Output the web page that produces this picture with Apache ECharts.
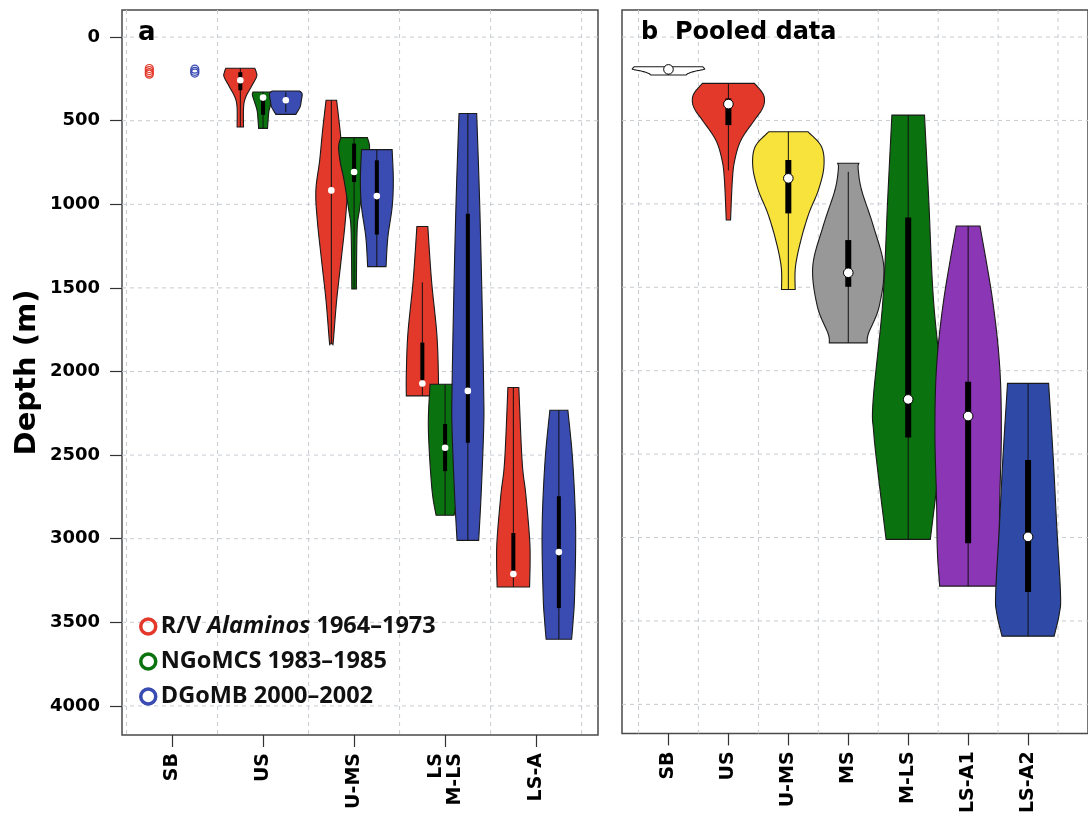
<!DOCTYPE html>
<html>
<head>
<meta charset="utf-8">
<script src="https://cdn.jsdelivr.net/npm/echarts@6/dist/echarts.min.js"></script>
<style>html,body{margin:0;padding:0;background:#fff}#c{width:1088px;height:816px}</style>
</head>
<body>
<div id="c"></div>
<script>
// ---------- categories / ticks ----------
const categoriesA = ['SB', 'US', 'U-MS', 'LS\nM-LS', 'LS-A'];
const categoriesB = ['SB', 'US', 'U-MS', 'MS', 'M-LS', 'LS-A1', 'LS-A2'];
const surveys = ['R/V Alaminos 1964–1973', 'NGoMCS 1983–1985', 'DGoMB 2000–2002'];
const depthTicks = [0, 500, 1000, 1500, 2000, 2500, 3000, 3500, 4000];
const catTicksA = [1, 2, 3, 4, 5];
const catTicksB = [1, 2, 3, 4, 5, 6, 7];
const gridXA = [0.5, 1.5, 2.5, 3.5, 4.5, 5.5];
const gridXB = [0.5, 1.5, 2.5, 3.5, 4.5, 5.5, 6.5, 7.5];

// ---------- panel a: SB raw points (depth, m) ----------
const sbRV = [188, 200, 212, 222];
const sbDGoMB = [192, 205, 215];

// ---------- violin profiles: [depth m, half-width in category units] ----------
// box stats: [whiskerLow, q1, median, q3, whiskerHigh]
const aUS_RV = [[186, .159], [210, .175], [238, .178], [298, .119], [358, .060], [418, .036], [538, .035]];
const aUS_RV_box = [186, 210, 258, 318, 538];
const aUS_NG = [[328, .110], [345, .118], [380, .099], [438, .066], [500, .055], [546, .049]];
const aUS_NG_box = [328, 350, 362, 465, 546];
const aUS_DG = [[322, .150], [340, .179], [380, .170], [418, .156], [462, .110]];
const aUS_DG_box = [330, 365, 378, 395, 450];
const aUMS_RV = [[378, .058], [558, .096], [737, .128], [917, .170], [1097, .154], [1337, .107], [1577, .058], [1817, .022], [1834, .016]];
const aUMS_RV_box = [378, 917, 917, 917, 1834];
const aUMS_NG = [[601, .146], [657, .170], [755, .150], [857, .110], [1037, .058], [1157, .033], [1507, .025]];
const aUMS_NG_box = [601, 637, 807, 867, 1507];
const aUMS_DG = [[673, .168], [857, .181], [1017, .168], [1197, .121], [1373, .101]];
const aUMS_DG_box = [673, 737, 951, 1181, 1373];
const aLS_RV = [[1133, .060], [1457, .101], [1775, .159], [2014, .176], [2146, .176]];
const aLS_RV_box = [1467, 1827, 2072, 2050, 2146];
const aMLS_NG = [[2076, .165], [2336, .184], [2696, .146], [2860, .099]];
const aMLS_NG_box = [2076, 2314, 2456, 2596, 2860];
const aMLS_DG = [[457, .097], [977, .129], [1577, .156], [2116, .174], [2336, .174], [2735, .146], [3010, .119]];
const aMLS_DG_box = [457, 1057, 2116, 2426, 3010];
const aLSA_RV = [[2096, .060], [2536, .096], [2736, .137], [2996, .178], [3135, .184], [3289, .178]];
const aLSA_RV_box = [2096, 2966, 3211, 3190, 3289];
const aLSA_DG = [[2232, .099], [2536, .152], [2936, .184], [3335, .173], [3495, .156], [3601, .140]];
const aLSA_DG_box = [2232, 2746, 3080, 3415, 3601];

// ---------- panel b: pooled ----------
const bSB = [[178, .570], [186, .593], [194, .593], [205, .443], [218, .332], [228, .293]];
const bSB_box = [194, 194, 194, 194, 228];
const bUS = [[278, .435], [338, .574], [388, .601], [438, .554], [498, .435], [618, .210], [738, .106], [858, .066], [1097, .036]];
const bUS_box = [278, 368, 402, 528, 800];
const bUMS = [[568, .329], [658, .554], [778, .593], [917, .502], [1057, .343], [1217, .210], [1377, .119], [1513, .114]];
const bUMS_box = [568, 737, 847, 1057, 1513];
const bMS = [[757, .177], [790, .165], [917, .222], [1137, .422], [1377, .593], [1617, .514], [1777, .337], [1833, .316]];
const bMS_box = [808, 1217, 1413, 1497, 1833];
const bMLS = [[468, .272], [977, .343], [1577, .422], [2176, .585], [2376, .574], [2676, .483], [3011, .369]];
const bMLS_box = [468, 1081, 2172, 2400, 3011];
const bLSA1 = [[1133, .198], [1577, .408], [1977, .527], [2376, .554], [2776, .527], [3076, .514], [3291, .475]];
const bLSA1_box = [1133, 2066, 2272, 3035, 3291];
const bLSA2 = [[2076, .343], [2536, .422], [2936, .479], [3335, .541], [3455, .522], [3591, .435]];
const bLSA2_box = [2076, 2536, 2996, 3326, 3591];

// ---------- colours ----------
const cRV = '#E3392B', cNG = '#0A720F', cDG = '#3A4CB2';
const surveyColors = [cRV, cNG, cDG];
const pooledColors = ['#FFFFFF', '#E3392B', '#F8E23C', '#989898', '#0A720F', '#8B36B4', '#2F4AA6'];

// ---------- tables built from the arrays ----------
const OFF = 0.25;
const violinsA = [
  {x: 2 - OFF, prof: aUS_RV, box: aUS_RV_box, color: cRV},
  {x: 2, prof: aUS_NG, box: aUS_NG_box, color: cNG},
  {x: 2 + OFF, prof: aUS_DG, box: aUS_DG_box, color: cDG},
  {x: 3 - OFF, prof: aUMS_RV, box: aUMS_RV_box, color: cRV},
  {x: 3, prof: aUMS_NG, box: aUMS_NG_box, color: cNG},
  {x: 3 + OFF, prof: aUMS_DG, box: aUMS_DG_box, color: cDG},
  {x: 4 - OFF, prof: aLS_RV, box: aLS_RV_box, color: cRV},
  {x: 4, prof: aMLS_NG, box: aMLS_NG_box, color: cNG},
  {x: 4 + OFF, prof: aMLS_DG, box: aMLS_DG_box, color: cDG},
  {x: 5 - OFF, prof: aLSA_RV, box: aLSA_RV_box, color: cRV},
  {x: 5 + OFF, prof: aLSA_DG, box: aLSA_DG_box, color: cDG}
];
const pooledProfiles = [bSB, bUS, bUMS, bMS, bMLS, bLSA1, bLSA2];
const pooledBoxes = [bSB_box, bUS_box, bUMS_box, bMS_box, bMLS_box, bLSA1_box, bLSA2_box];
const violinsB = pooledProfiles.map((p, i) => ({x: i + 1, prof: p, box: pooledBoxes[i], color: pooledColors[i]}));

// smooth a profile (rendering only) with Catmull-Rom
function smoothProfile(pts, steps) {
  const out = [];
  for (let i = 0; i < pts.length - 1; i++) {
    const p0 = pts[i - 1] || pts[i], p1 = pts[i], p2 = pts[i + 1], p3 = pts[i + 2] || pts[i + 1];
    for (let s = 0; s < steps; s++) {
      const t = s / steps, t2 = t * t, t3 = t2 * t;
      const f = (a, b, c, d) => 0.5 * ((2 * b) + (-a + c) * t + (2 * a - 5 * b + 4 * c - d) * t2 + (-a + 3 * b - 3 * c + d) * t3);
      out.push([f(p0[0], p1[0], p2[0], p3[0]), Math.max(0, f(p0[1], p1[1], p2[1], p3[1]))]);
    }
  }
  out.push(pts[pts.length - 1]);
  return out;
}

function violinRenderer(list, boxW, medR, medStroke) {
  return function (params, api) {
    const v = list[api.value(2)];
    const sm = smoothProfile(v.prof, 10);
    const left = sm.map(p => api.coord([v.x - p[1], p[0]]));
    const right = sm.slice().reverse().map(p => api.coord([v.x + p[1], p[0]]));
    const b = v.box;
    const w1 = api.coord([v.x, b[0]]), w2 = api.coord([v.x, b[4]]);
    const q1 = api.coord([v.x, b[1]]), q3 = api.coord([v.x, b[3]]);
    const md = api.coord([v.x, b[2]]);
    const children = [
      {type: 'polygon', shape: {points: left.concat(right)}, style: {fill: v.color, stroke: '#1a1a1a', lineWidth: 1.1}},
      {type: 'line', shape: {x1: w1[0], y1: w1[1], x2: w2[0], y2: w2[1]}, style: {stroke: '#111', lineWidth: 1}}
    ];
    if (b[3] !== b[1]) {
      children.push({type: 'line', shape: {x1: q1[0], y1: q1[1], x2: q3[0], y2: q3[1]}, style: {stroke: '#000', lineWidth: boxW, lineCap: 'butt'}});
    }
    children.push({type: 'circle', shape: {cx: md[0], cy: md[1], r: medR},
      style: {fill: '#fff', stroke: medStroke ? '#000' : null, lineWidth: medStroke ? 1 : 0}});
    return {type: 'group', children};
  };
}

function gridRenderer(params, api) {
  const cs = params.coordSys;
  const t = api.value(0), v = api.value(1);
  const st = {stroke: '#c7ccd2', lineWidth: 1, lineDash: [4, 4]};
  if (t === 0) {
    const x = api.coord([v, 0])[0];
    return {type: 'line', shape: {x1: x, y1: cs.y, x2: x, y2: cs.y + cs.height}, style: st};
  }
  const y = api.coord([1, v])[1];
  return {type: 'line', shape: {x1: cs.x, y1: y, x2: cs.x + cs.width, y2: y}, style: st};
}

const FONT = 'DejaVu Sans';
const Y_MIN = -162, Y_MAX = 4174;

function xAxisFor(gi, min, max, ticks, cats) {
  return {
    gridIndex: gi, type: 'value', min, max, position: 'bottom',
    axisLine: {show: false, onZero: false}, splitLine: {show: false},
    axisTick: {show: true, customValues: ticks, length: 12, lineStyle: {color: '#333', width: 1.2}},
    axisLabel: {customValues: ticks, formatter: v => cats[Math.round(v) - 1], rotate: 90, margin: 18,
      fontFamily: FONT, fontWeight: 'bold', fontSize: 19, color: '#000', lineHeight: 19}
  };
}

const chart = echarts.init(document.getElementById('c'), null, {renderer: 'canvas'});
chart.setOption({
  backgroundColor: '#fff',
  animation: false,
  title: [
    {text: 'a', left: 138, top: 20, padding: 0, textStyle: {fontFamily: FONT, fontWeight: 'bold', fontSize: 26, color: '#000'}},
    {text: 'b  Pooled data', left: 641, top: 21, padding: 0, textStyle: {fontFamily: FONT, fontWeight: 'bold', fontSize: 24, color: '#000'}}
  ],
  grid: [
    {left: 122, top: 10, width: 476, height: 725, show: true, borderColor: '#4a4a4a', borderWidth: 1.5},
    {left: 622, top: 10, width: 491.4, height: 725, show: true, borderColor: '#4a4a4a', borderWidth: 1.5}
  ],
  xAxis: [
    xAxisFor(0, 0.45, 5.68, catTicksA, categoriesA),
    xAxisFor(1, 0.2247, 8.0, catTicksB, categoriesB)
  ],
  yAxis: [
    {gridIndex: 0, type: 'value', inverse: true, min: Y_MIN, max: Y_MAX,
      axisLine: {show: false, onZero: false}, splitLine: {show: false},
      axisTick: {show: true, customValues: depthTicks, length: 12, lineStyle: {color: '#333', width: 1.2}},
      axisLabel: {customValues: depthTicks, formatter: v => String(v), margin: 22, fontFamily: FONT, fontWeight: 'bold', fontSize: 18, color: '#000'},
      name: 'Depth (m)', nameLocation: 'middle', nameGap: 80, nameRotate: 90,
      nameTextStyle: {fontFamily: FONT, fontWeight: 'bold', fontSize: 29, color: '#000'}},
    {gridIndex: 1, type: 'value', inverse: true, min: Y_MIN, max: Y_MAX,
      axisLine: {show: false, onZero: false}, splitLine: {show: false}, axisTick: {show: false}, axisLabel: {show: false}}
  ],
  legend: {
    orient: 'vertical', left: 139, top: 613, itemWidth: 15, itemHeight: 15, itemGap: 8,
    icon: 'circle', selectedMode: false, padding: 0,
    data: surveys.map((s, i) => ({name: s, itemStyle: {color: 'rgba(255,255,255,0)', borderColor: surveyColors[i], borderWidth: 3.5, opacity: 1}})),
    formatter: name => name.indexOf('Alaminos') >= 0 ? '{n|R/V }{i|Alaminos}{n| 1964–1973}' : '{n|' + name + '}',
    textStyle: {
      fontFamily: 'Open Sans', fontWeight: 'bold', fontSize: 23.5, color: '#111', lineHeight: 27,
      rich: {
        n: {fontFamily: 'Open Sans', fontWeight: 'bold', fontSize: 23.5, color: '#111', lineHeight: 27},
        i: {fontFamily: 'Open Sans', fontWeight: 'bold', fontStyle: 'italic', fontSize: 23.5, color: '#111', lineHeight: 27}
      }
    }
  },
  series: [
    {type: 'custom', name: 'gridA', xAxisIndex: 0, yAxisIndex: 0, silent: true, z: 1,
      data: gridXA.map(v => [0, v]).concat(depthTicks.map(v => [1, v])), renderItem: gridRenderer},
    {type: 'custom', name: 'gridB', xAxisIndex: 1, yAxisIndex: 1, silent: true, z: 1,
      data: gridXB.map(v => [0, v]).concat(depthTicks.map(v => [1, v])), renderItem: gridRenderer},
    {type: 'custom', name: 'violinsA', xAxisIndex: 0, yAxisIndex: 0, z: 2, silent: true,
      dimensions: ['x', 'y', 'idx'], encode: {x: 0, y: 1},
      data: violinsA.map((v, i) => [v.x, v.box[2], i]), renderItem: violinRenderer(violinsA, 4, 3.3, false)},
    {type: 'custom', name: 'violinsB', xAxisIndex: 1, yAxisIndex: 1, z: 2, silent: true,
      dimensions: ['x', 'y', 'idx'], encode: {x: 0, y: 1},
      data: violinsB.map((v, i) => [v.x, v.box[2], i]), renderItem: violinRenderer(violinsB, 6, 4.8, true)},
    {type: 'scatter', name: surveys[0], xAxisIndex: 0, yAxisIndex: 0, z: 3, symbol: 'circle', symbolSize: 8,
      itemStyle: {color: 'rgba(255,255,255,0)', borderColor: cRV, borderWidth: 1.2, opacity: 1},
      data: sbRV.map(d => [1 - OFF, d])},
    {type: 'scatter', name: surveys[1], xAxisIndex: 0, yAxisIndex: 0, z: 3, symbol: 'circle', symbolSize: 8,
      itemStyle: {color: 'rgba(255,255,255,0)', borderColor: cNG, borderWidth: 1.2, opacity: 1}, data: []},
    {type: 'scatter', name: surveys[2], xAxisIndex: 0, yAxisIndex: 0, z: 3, symbol: 'circle', symbolSize: 8,
      itemStyle: {color: 'rgba(255,255,255,0)', borderColor: cDG, borderWidth: 1.2, opacity: 1},
      data: sbDGoMB.map(d => [1 + OFF, d])}
  ]
});
</script>
</body>
</html>
